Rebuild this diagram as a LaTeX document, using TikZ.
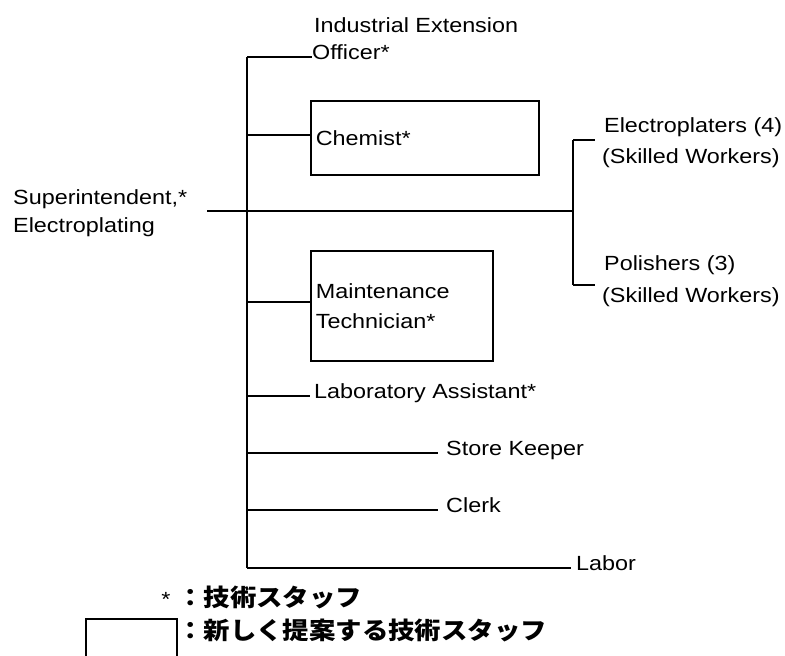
\documentclass[tikz,border=0pt]{standalone}
\usepackage{fontspec}
\setmainfont[FakeStretch=1.14]{Liberation Sans}
\newfontfamily\jpf[FakeStretch=1.1]{Noto Sans CJK JP}
\begin{document}
\begin{tikzpicture}[x=1pt,y=-1pt,
  lbl/.style={inner sep=0pt, font=\fontsize{20.5}{24}\selectfont},
  trunkline/.style={line width=2.6pt},
  bracketline/.style={line width=2pt},
  branch/.style={line width=1.2pt},
  pbox/.style={draw, line width=1.7pt, rectangle, inner xsep=5pt, inner ysep=0pt,
    align=left, anchor=north west, font=\fontsize{20.5}{30}\selectfont},
  jp/.style={inner sep=0pt, font=\jpf\bfseries\fontsize{24}{28}\selectfont}]
\useasboundingbox (0,0) rectangle (785,656);

% coordinates on the trunk and bracket
\coordinate (ttop) at (247,57);
\coordinate (tbot) at (247,568);
\coordinate (tchem) at (247,135);
\coordinate (tmaint) at (247,302);
\coordinate (mainL) at (207,211);
\coordinate (bMid) at (573,211);
\coordinate (bTop) at (573,140);
\coordinate (bBot) at (573,285);
\coordinate (eTop) at (595,140);
\coordinate (eBot) at (595,285);

% boxes
\node[pbox, minimum width=228pt, minimum height=74pt, text width=218pt] (chem) at (310,100) {Chemist*};
\node[pbox, minimum width=182pt, minimum height=110pt, text width=172pt] (maint) at (310,250) {Maintenance\\Technician*};

% labels
\node[lbl, anchor=base west] (ind) at (314,32) {Industrial Extension};
\node[lbl, anchor=mid west] (officer) at (312,57) {Officer*};
\node[lbl, anchor=base west] (sup1) at (13,204) {Superintendent,*};
\node[lbl, anchor=base west] (sup2) at (13,232) {Electroplating};
\node[lbl, anchor=base west] (ep1) at (604,132) {Electroplaters (4)};
\node[lbl, anchor=base west] (ep2) at (602,163) {(Skilled Workers)};
\node[lbl, anchor=base west] (po1) at (604,270) {Polishers (3)};
\node[lbl, anchor=base west] (po2) at (602,302) {(Skilled Workers)};
\node[lbl, anchor=mid west] (lab) at (314,396) {Laboratory Assistant*};
\node[lbl, anchor=mid west] (store) at (446,453) {Store Keeper};
\node[lbl, anchor=mid west] (clerk) at (446,510) {Clerk};
\node[lbl, anchor=mid west] (labor) at (576,568) {Labor};

% connectors
\draw[trunkline] (ttop) -- (tbot);
\draw[branch] (ttop) -- (officer.mid west);
\draw[branch] (tchem) -- (tchem -| chem.west);
\draw[branch] (tmaint) -- (tmaint -| maint.west);
\draw[branch] (mainL) -- (bMid);
\draw[bracketline] (bTop) -- (bBot);
\draw[branch] (bTop) -- (eTop);
\draw[branch] (bBot) -- (eBot);
\draw[branch] (tbot |- lab.mid west) -- ([xshift=-4pt]lab.mid west);
\draw[branch] (tbot |- store.mid west) -- ([xshift=-8pt]store.mid west);
\draw[branch] (tbot |- clerk.mid west) -- ([xshift=-8pt]clerk.mid west);
\draw[branch] (tbot) -- ([xshift=-5pt]labor.mid west);

% legend
\node[jp, anchor=base west] (leg1) at (177,606) {：技術スタッフ};
\node[lbl, anchor=base] (star) at (166,606) {*};
\node[jp, anchor=base west] (leg2) at (177,639) {：新しく提案する技術スタッフ};
\coordinate (lbA) at (86,657);
\coordinate (lbB) at (86,619);
\coordinate (lbC) at (177,619);
\coordinate (lbD) at (177,657);
\draw[line width=1.7pt] (lbA) -- (lbB) -- (lbC) -- (lbD);
\end{tikzpicture}
\end{document}
